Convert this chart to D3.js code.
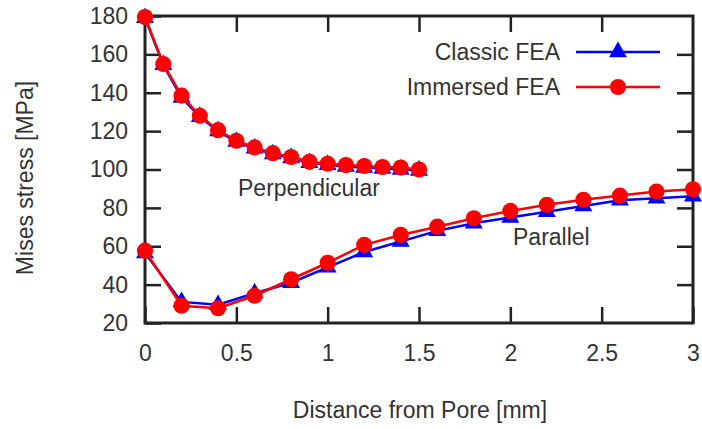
<!DOCTYPE html>
<meta charset="utf-8">
<style>
    body { margin: 0; background: #fff; }
    text { font-family: "Liberation Sans", Arial, sans-serif; font-size: 23px; fill: #333; }
    .axis path { display: none; }
    .axis line { stroke: #222; stroke-width: 2.5px; }
</style>
<body>
<script src="https://d3js.org/d3.v7.min.js"></script>
<script>
    // perpendicular direction, every 0.1 mm
    var perpX = [0, 0.1, 0.2, 0.3, 0.4, 0.5, 0.6, 0.7, 0.8, 0.9, 1.0, 1.1, 1.2, 1.3, 1.4, 1.5];
    var perpClassic = [179, 154.5, 137.5, 127.5, 120, 114.5, 111, 108, 106, 103.5, 102.5, 101.5, 101, 100.5, 100, 99.5];
    var perpImmersed = [179.5, 155, 138.5, 128, 120.5, 115, 111.5, 108.5, 106.5, 104, 103, 102.3, 101.8, 101.3, 101, 100];

    // parallel direction, every 0.2 mm
    var parX = [0, 0.2, 0.4, 0.6, 0.8, 1.0, 1.2, 1.4, 1.6, 1.8, 2.0, 2.2, 2.4, 2.6, 2.8, 3.0];
    var parClassic = [56.5, 31, 29.5, 35.5, 41, 49, 57, 62.5, 68, 72, 75, 78, 81, 84, 85, 86];
    var parImmersed = [57.7, 29, 27.7, 34.2, 42.8, 51.4, 60.7, 65.9, 70.2, 74.6, 78.4, 81.6, 84.2, 86.4, 88.5, 89.7];

    var xTicks = [0, 0.5, 1, 1.5, 2, 2.5, 3];
    var yTicks = [20, 40, 60, 80, 100, 120, 140, 160, 180];
    var seriesNames = ["Classic FEA", "Immersed FEA"];
    var seriesColors = ["#0000ff", "#ff0000"];

    var W = 702, H = 429;
    var plot = { left: 145, right: 693, top: 16, bottom: 323 };

    var x = d3.scaleLinear().domain([0, 3]).range([plot.left, plot.right]);
    var y = d3.scaleLinear().domain([20, 180]).range([plot.bottom, plot.top]);

    var svg = d3.select("body").append("svg")
        .attr("width", W)
        .attr("height", H);

    // axes with inward ticks, mirrored on top and right
    svg.append("g").attr("class", "axis")
        .attr("transform", "translate(0," + plot.bottom + ")")
        .call(d3.axisBottom(x).tickValues(xTicks).tickSize(-16).tickPadding(22)
            .tickFormat(function(d) { return d; }));
    svg.append("g").attr("class", "axis")
        .attr("transform", "translate(0," + plot.top + ")")
        .call(d3.axisTop(x).tickValues(xTicks.slice(1, -1)).tickSize(-16).tickFormat(""));
    svg.append("g").attr("class", "axis")
        .attr("transform", "translate(" + plot.left + ",0)")
        .call(d3.axisLeft(y).tickValues(yTicks).tickSize(-16).tickPadding(17));
    svg.append("g").attr("class", "axis")
        .attr("transform", "translate(" + plot.right + ",0)")
        .call(d3.axisRight(y).tickValues(yTicks.slice(1, -1)).tickSize(-16).tickFormat(""));

    svg.selectAll(".axis .tick text").attr("fill", "#333");

    svg.append("rect")
        .attr("x", plot.left).attr("y", plot.top)
        .attr("width", plot.right - plot.left).attr("height", plot.bottom - plot.top)
        .attr("fill", "none").attr("stroke", "#222").attr("stroke-width", 3);

    var line = d3.line()
        .x(function(d) { return x(d[0]); })
        .y(function(d) { return y(d[1]); });

    var tri = d3.symbol().type(d3.symbolTriangle).size(140);
    var dot = d3.symbol().type(d3.symbolCircle).size(205);

    function drawSeries(xs, ys, i) {
        var pts = xs.map(function(v, k) { return [v, ys[k]]; });
        svg.append("path")
            .attr("d", line(pts))
            .attr("fill", "none")
            .attr("stroke", seriesColors[i])
            .attr("stroke-width", 2.5);
        svg.selectAll(null).data(pts).enter().append("path")
            .attr("d", i === 0 ? tri : dot)
            .attr("transform", function(d) { return "translate(" + x(d[0]) + "," + y(d[1]) + ")"; })
            .attr("fill", seriesColors[i]);
    }

    drawSeries(perpX, perpClassic, 0);
    drawSeries(parX, parClassic, 0);
    drawSeries(perpX, perpImmersed, 1);
    drawSeries(parX, parImmersed, 1);

    // legend
    var legend = svg.append("g");
    seriesNames.forEach(function(name, i) {
        var ly = 52 + i * 35;
        legend.append("text")
            .attr("x", 560).attr("y", ly)
            .attr("dy", "0.35em")
            .attr("text-anchor", "end")
            .text(name);
        legend.append("line")
            .attr("x1", 576).attr("x2", 660)
            .attr("y1", ly).attr("y2", ly)
            .attr("stroke", seriesColors[i]).attr("stroke-width", 2.5);
        legend.append("path")
            .attr("d", i === 0 ? tri : dot)
            .attr("transform", "translate(618," + ly + ")")
            .attr("fill", seriesColors[i]);
    });

    // curve labels
    svg.append("text").attr("x", 238).attr("y", 196).text("Perpendicular");
    svg.append("text").attr("x", 513).attr("y", 245).text("Parallel");

    // axis titles
    svg.append("text")
        .attr("x", 420).attr("y", 418)
        .attr("text-anchor", "middle")
        .text("Distance from Pore [mm]");
    svg.append("text")
        .attr("transform", "translate(33,178) rotate(-90)")
        .attr("text-anchor", "middle")
        .text("Mises stress [MPa]");
</script>
</body>
